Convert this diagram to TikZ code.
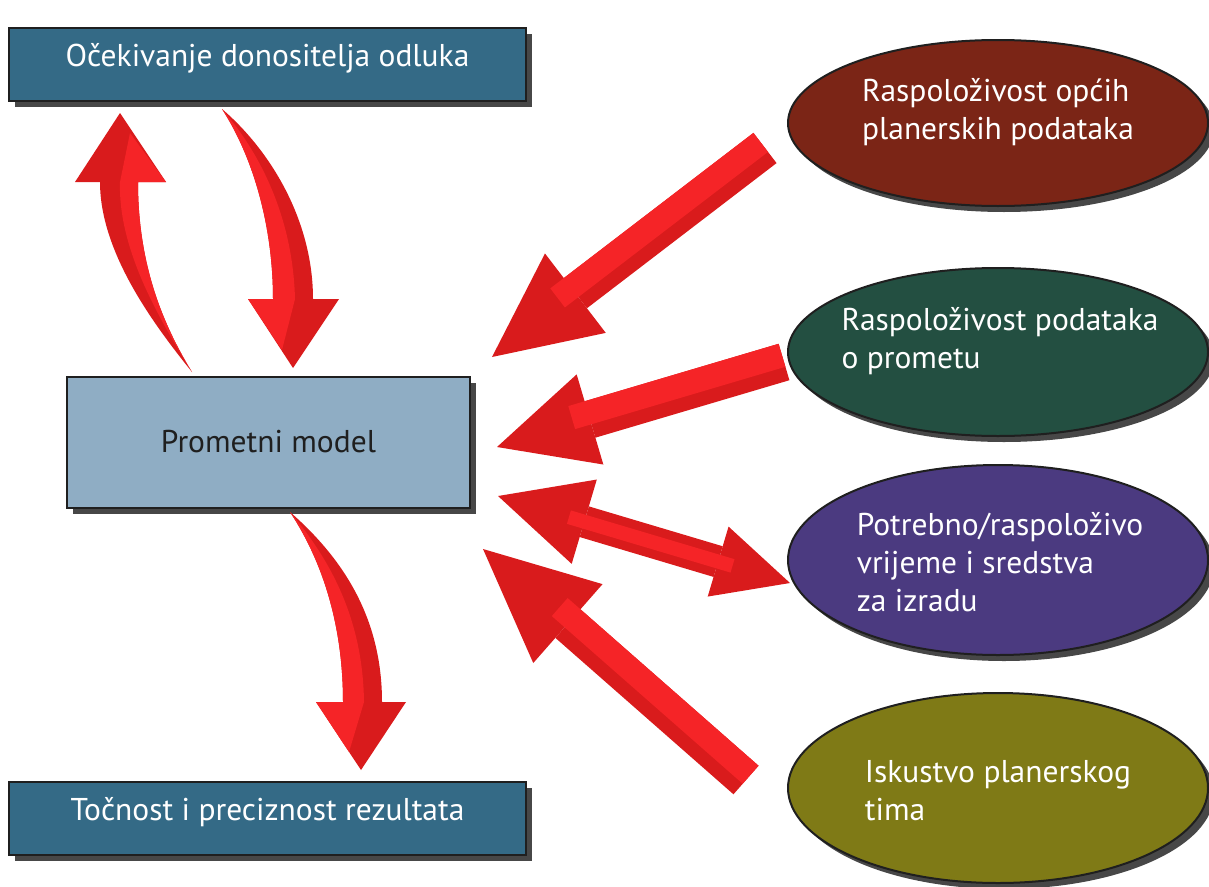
\documentclass[tikz,border=0pt]{standalone}
\usepackage{fontspec}
\setmainfont{PT Sans}
\usetikzlibrary{shapes.geometric,shadows,arrows.meta,calc}

\definecolor{boxblue}{RGB}{52,106,134}
\definecolor{modelblue}{RGB}{143,173,196}
\definecolor{ovalbrown}{RGB}{123,37,22}
\definecolor{ovalgreen}{RGB}{35,79,65}
\definecolor{ovalviolet}{RGB}{75,58,128}
\definecolor{ovalolive}{RGB}{127,122,22}
\definecolor{redhi}{RGB}{245,36,39}
\definecolor{redlo}{RGB}{217,27,28}
\definecolor{edgegray}{RGB}{31,31,31}

\begin{document}
\begin{tikzpicture}[x=1pt, y=-1pt,
    label/.style={font=\fontsize{31.5}{38}\selectfont},
    boxshadow/.style={drop shadow={shadow xshift=6pt, shadow yshift=-6pt,
                                   fill=black!72, opacity=1}},
    goalbox/.style={label, boxshadow, rectangle, draw=edgegray, line width=2pt,
                    fill=boxblue, text=white, minimum width=517pt,
                    minimum height=73pt, text height=25pt, text depth=21pt},
    modelbox/.style={label, boxshadow, rectangle, draw=edgegray, line width=2pt,
                     fill=modelblue, text=edgegray, minimum width=403pt,
                     minimum height=131pt},
    oval/.style={boxshadow, ellipse, draw=edgegray, line width=2pt,
                 minimum width=420pt},
    ovaltext/.style={label, text=white, align=left}]

  \useasboundingbox (0,0) rectangle (1209,886);

  \node[goalbox] (expect) at (267.5,64.5) {Očekivanje donositelja odluka};
  \node[modelbox] (model) at (268.5,442) {Prometni model};
  \node[goalbox] (result) at (267.5,818) {Točnost i preciznost rezultata};

  \coordinate (c1tail) at (192,372);
  \coordinate (c1tip) at (120,113);
  \coordinate (c2tail) at (222,109);
  \coordinate (c2tip) at (293,368);
  \coordinate (c3tail) at (290,512);
  \coordinate (c3tip) at (361,770);
  \coordinate (s1tail) at (765,148);
  \coordinate (s1tip) at (492,357);
  \coordinate (s2tail) at (784,362);
  \coordinate (s2tip) at (497,447);
  \coordinate (s3left) at (498,496);
  \coordinate (s3right) at (790,583);
  \coordinate (s4tail) at (746,780);
  \coordinate (s4tip) at (483,549);

  \fill[redlo] (c1tail) .. controls +(-42,-52) and +(0,68) .. ($(c1tip)+(-20,69)$)
    -- ($(c1tip)+(-45,69)$) -- (c1tip) -- ($(c1tip)+(46,69)$) -- ($(c1tip)+(18,69)$)
    .. controls +(0,78) and +(-32,-52) .. (c1tail) -- cycle;
  \fill[redhi] (c1tail) .. controls +(-32,-52) and +(-2,68) .. ($(c1tip)+(0,69)$)
    -- ($(c1tip)+(10,20)$) -- ($(c1tip)+(46,69)$) -- ($(c1tip)+(18,69)$)
    .. controls +(0,78) and +(-32,-52) .. (c1tail) -- cycle;

  \fill[redlo] (c2tail) .. controls +(33,51) and +(0,-69) .. ($(c2tip)+(-20,-69)$)
    -- ($(c2tip)+(-45,-69)$) -- (c2tip) -- ($(c2tip)+(46,-69)$) -- ($(c2tip)+(20,-69)$)
    .. controls +(0,-79) and +(48,41) .. (c2tail) -- cycle;
  \fill[redhi] (c2tail) .. controls +(33,51) and +(0,-69) .. ($(c2tip)+(-20,-69)$)
    -- ($(c2tip)+(-45,-69)$) -- ($(c2tip)+(-11,-18)$) -- ($(c2tip)+(2,-69)$)
    .. controls +(-2,-79) and +(40,46) .. (c2tail) -- cycle;

  \fill[redlo] (c3tail) .. controls +(35,53) and +(0,-72) .. ($(c3tip)+(-18,-68)$)
    -- ($(c3tip)+(-45,-68)$) -- (c3tip) -- ($(c3tip)+(45,-68)$) -- ($(c3tip)+(21,-68)$)
    .. controls +(0,-82) and +(55,48) .. (c3tail) -- cycle;
  \fill[redhi] (c3tail) .. controls +(35,53) and +(0,-72) .. ($(c3tip)+(-18,-68)$)
    -- ($(c3tip)+(-45,-68)$) -- ($(c3tip)+(-12,-18)$) -- ($(c3tip)+(3,-68)$)
    .. controls +(-1,-77) and +(45,53) .. (c3tail) -- cycle;

  \foreach \from/\to/\len/\wid/\cut/\dx/\dy in {s1tail/s1tip/105pt/100pt/88pt/-4.3/-5.6,
                                              s2tail/s2tip/97pt/94pt/80pt/-2/-6.7,
                                              s4tail/s4tip/113pt/105pt/96pt/4.6/-5.3} {
    \draw[redlo, line width=38pt, -{Triangle[length=\len, width=\wid, line width=0pt]}]
      (\from) -- (\to);
    \draw[redhi, line width=24pt, shorten >=\cut, transform canvas={shift={(\dx,\dy)}}]
      (\from) -- (\to);
  }
  \draw[redlo, line width=32pt, {Triangle[length=90pt, width=88pt, line width=0pt]}-{Triangle[length=75pt, width=73pt, line width=0pt]}]
    (s3left) -- (s3right);
  \draw[redhi, line width=14pt, shorten <=74pt, shorten >=60pt] (s3left) -- (s3right);

  \node[oval, fill=ovalbrown, minimum height=166pt] (general) at (998,123) {};
  \node[oval, fill=ovalgreen, minimum height=168pt] (traffic) at (998,352) {};
  \node[oval, fill=ovalviolet, minimum height=190pt] (means) at (998,560) {};
  \node[oval, fill=ovalolive, minimum height=190pt] (team) at (998,788) {};

  \node[ovaltext] (generaltext) at ($(general)+(0,-11)$)
    {Raspoloživost općih\\planerskih podataka};
  \node[ovaltext] (traffictext) at ($(traffic)+(2,-11)$)
    {Raspoloživost podataka\\o prometu};
  \node[ovaltext] (meanstext) at ($(means)+(2,2)$)
    {Potrebno/raspoloživo\\vrijeme i sredstva\\za izradu};
  \node[ovaltext] (teamtext) at ($(team)+(0,3)$)
    {Iskustvo planerskog\\tima};
\end{tikzpicture}
\end{document}
